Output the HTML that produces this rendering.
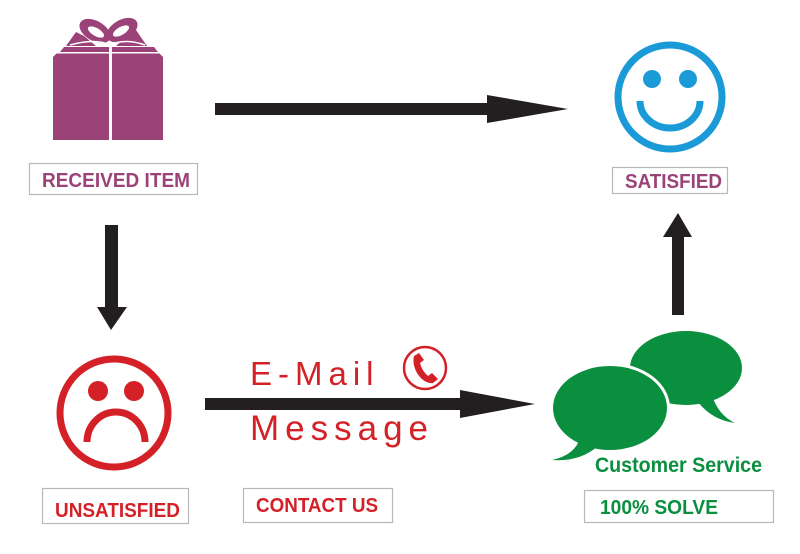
<!DOCTYPE html>
<html><head><meta charset="utf-8"><style>
html,body{margin:0;padding:0;background:#fff;}
svg{display:block;}
text{font-family:"Liberation Sans",sans-serif;}
</style></head><body>
<svg width="800" height="554" viewBox="0 0 800 554" xmlns="http://www.w3.org/2000/svg">
<rect width="800" height="554" fill="#fff"/>
<!-- Gift -->
<g fill="#9b4278">
<path d="M57 53 L159 53 L163 57 L163 140 L53 140 L53 57 Z"/>
<path d="M64 47 L154 47 L158 52 L60 52 Z"/>
<path d="M66 46 L76 32 L84 36 L96 46 Z"/>
<path d="M147 46 L136 30 L128 35 L116 46 Z"/>
<ellipse cx="95" cy="31" rx="17" ry="10" transform="rotate(30 95 31)"/>
<ellipse cx="122" cy="30" rx="17" ry="10" transform="rotate(-30 122 30)"/>
</g>
<g fill="#fff">
<ellipse cx="96" cy="32" rx="9" ry="4" transform="rotate(30 96 32)"/>
<ellipse cx="121" cy="31" rx="9" ry="4" transform="rotate(-30 121 31)"/>
</g>
<path d="M70 45 Q95 38 110 45 Q125 38 145 45" fill="none" stroke="#fff" stroke-width="1.5"/>
<rect x="109" y="42" width="3" height="98" fill="#fff"/>
<rect x="53" y="52" width="110" height="1.5" fill="#fff"/>
<!-- label boxes -->
<g fill="#fff" stroke="#b8b8b8" stroke-width="1.2">
<rect x="29.5" y="163.5" width="168" height="31"/>
<rect x="612.5" y="167.5" width="115" height="26"/>
<rect x="42.5" y="488.5" width="146" height="35"/>
<rect x="243.5" y="488.5" width="149" height="34"/>
<rect x="584.5" y="490.5" width="189" height="32"/>
</g>
<g font-weight="bold" font-size="20">
<text x="42" y="187" fill="#9b4278" textLength="148" lengthAdjust="spacingAndGlyphs">RECEIVED ITEM</text>
<text x="625" y="188" fill="#9b4278" textLength="97" lengthAdjust="spacingAndGlyphs">SATISFIED</text>
<text x="55" y="517" fill="#d42027" textLength="125" lengthAdjust="spacingAndGlyphs">UNSATISFIED</text>
<text x="256" y="512" fill="#d42027" textLength="122" lengthAdjust="spacingAndGlyphs">CONTACT US</text>
<text x="600" y="514" fill="#0a8f3f" textLength="118" lengthAdjust="spacingAndGlyphs">100% SOLVE</text>
</g>
<!-- arrows -->
<g fill="#231f20">
<path d="M215 103 H487 V95 L568 109 L487 123 V115 H215 Z"/>
<path d="M205 398 H460 V390 L535 404 L460 418 V410 H205 Z"/>
<path d="M105 225 H118 V307 H127 L111 330 L97 307 H105 Z"/>
<path d="M672 315 V237 H663 L678 213 L692 237 H684 V315 Z"/>
</g>
<!-- smiley -->
<g stroke="#1a9ad7" stroke-width="7" fill="none">
<circle cx="670" cy="97" r="52"/>
<path d="M640 101 A30 27 0 0 0 700 101"/>
</g>
<circle cx="652" cy="79" r="9" fill="#1a9ad7"/>
<circle cx="688" cy="79" r="9" fill="#1a9ad7"/>
<!-- sad -->
<g stroke="#d42027" stroke-width="7" fill="none">
<circle cx="114" cy="413" r="54"/>
<path d="M87 442 A29 30 0 0 1 145 442"/>
</g>
<circle cx="98" cy="391" r="10" fill="#d42027"/>
<circle cx="134" cy="391" r="10" fill="#d42027"/>
<!-- email -->
<text x="250" y="385" fill="#d42027" font-size="33" letter-spacing="6">E-Mail</text>
<text x="250" y="440" fill="#d42027" font-size="35" letter-spacing="6">Message</text>
<circle cx="425" cy="368" r="21" fill="none" stroke="#d42027" stroke-width="2.5"/>
<path d="M414 356 L419 353 L424 360 L420 363 Q422 371 428 376 L432 373 L438 379 L433 383 Q424 384 417 373 Q412 364 414 356 Z" fill="#d42027"/>
<!-- bubbles -->
<g fill="#0a8f3f">
<ellipse cx="686" cy="368" rx="56" ry="37"/>
<path d="M712 395 Q718 415 735 423 Q712 420 698 402 Z"/>
</g>
<ellipse cx="610" cy="408" rx="60" ry="45" fill="#fff"/>
<g fill="#0a8f3f">
<ellipse cx="610" cy="408" rx="57" ry="42"/>
<path d="M580 438 Q575 455 552 460 Q580 462 598 446 Z"/>
</g>
<text x="595" y="472" fill="#0a8f3f" font-size="21" font-weight="bold" textLength="167" lengthAdjust="spacingAndGlyphs">Customer Service</text>
</svg>
</body></html>
